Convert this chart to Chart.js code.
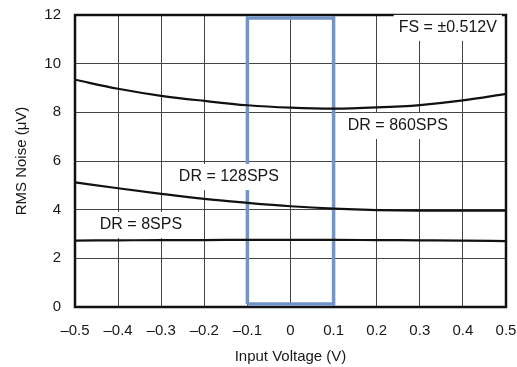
<!DOCTYPE html>
<html>
<head>
<meta charset="utf-8">
<script src="https://cdn.jsdelivr.net/npm/chart.js@4"></script>
<style>
  html, body { margin: 0; padding: 0; background: #fff; }
  #noiseChart { display: block; }
</style>
</head>
<body>
<canvas id="noiseChart" width="517" height="367"></canvas>
<script>
// Tensão de entrada (V) e ruído RMS (µV) para cada taxa de dados
const inputVoltage = [-0.5, -0.4, -0.3, -0.2, -0.1, 0, 0.1, 0.2, 0.3, 0.4, 0.5];
const noise860 = [9.34, 8.97, 8.68, 8.47, 8.29, 8.19, 8.15, 8.2, 8.3, 8.49, 8.76];
const noise128 = [5.12, 4.88, 4.65, 4.44, 4.28, 4.14, 4.04, 3.98, 3.96, 3.96, 3.96];
const noise8 = [2.73, 2.74, 2.75, 2.75, 2.76, 2.76, 2.76, 2.75, 2.74, 2.73, 2.71];

// Faixa destacada em azul
const boxX = [-0.1, -0.1, 0.1, 0.1, -0.1];
const boxY = [0.12, 11.88, 11.88, 0.12, 0.12];

const xTicks = [-0.5, -0.4, -0.3, -0.2, -0.1, 0, 0.1, 0.2, 0.3, 0.4, 0.5];
const yTicks = [0, 2, 4, 6, 8, 10, 12];

// Rótulos dentro do gráfico: texto e posição em coordenadas dos dados
const notes = [
  { text: 'FS = \u00B10.512V', x: 0.365, y: 11.47 },
  { text: 'DR = 860SPS', x: 0.249, y: 7.44 },
  { text: 'DR = 128SPS', x: -0.143, y: 5.34 },
  { text: 'DR = 8SPS', x: -0.347, y: 3.37 }
];

const FONT = '"Liberation Sans", Arial, sans-serif';
const TEXT = '#1a1718';

const toPoints = (ys) => inputVoltage.map((x, i) => ({ x: x, y: ys[i] }));

function curve(ys) {
  return {
    data: toPoints(ys),
    borderColor: '#111',
    borderWidth: 2.2,
    pointRadius: 0,
    showLine: true,
    fill: false,
    cubicInterpolationMode: 'monotone'
  };
}

// Moldura preta e rótulos com fundo branco
const decorPlugin = {
  id: 'decor',
  beforeDatasetsDraw(chart) {
    const a = chart.chartArea;
    const c = chart.ctx;
    c.save();
    c.strokeStyle = '#111';
    c.lineWidth = 2.5;
    c.strokeRect(a.left, a.top, a.right - a.left, a.bottom - a.top);
    c.restore();
  },
  afterDatasetsDraw(chart) {
    const c = chart.ctx;
    const sx = chart.scales.x;
    const sy = chart.scales.y;
    c.save();
    c.font = '16px ' + FONT;
    c.textAlign = 'center';
    c.textBaseline = 'middle';
    notes.forEach((n) => {
      const px = sx.getPixelForValue(n.x);
      const py = sy.getPixelForValue(n.y);
      const w = c.measureText(n.text).width + 10;
      c.fillStyle = '#fff';
      c.fillRect(px - w / 2, py - 13, w, 26);
      c.fillStyle = TEXT;
      c.fillText(n.text, px, py);
    });
    c.restore();
  }
};

new Chart(document.getElementById('noiseChart').getContext('2d'), {
  type: 'scatter',
  data: {
    datasets: [
      curve(noise860),
      curve(noise128),
      curve(noise8),
      {
        data: boxX.map((x, i) => ({ x: x, y: boxY[i] })),
        borderColor: '#7395c6',
        borderWidth: 3.5,
        pointRadius: 0,
        showLine: true,
        fill: false,
        tension: 0
      }
    ]
  },
  options: {
    responsive: false,
    animation: false,
    layout: { padding: { left: 0, top: 15, right: 11, bottom: 0 } },
    plugins: { legend: { display: false }, tooltip: { enabled: false } },
    scales: {
      x: {
        type: 'linear',
        min: -0.5,
        max: 0.5,
        afterFit: (s) => { s.height = 60; s.paddingLeft = 0; s.paddingRight = 0; },
        afterBuildTicks: (s) => { s.ticks = xTicks.map((v) => ({ value: v })); },
        grid: { color: '#444', lineWidth: 1, drawTicks: false },
        border: { display: false },
        ticks: {
          padding: 15,
          color: TEXT,
          font: { family: FONT, size: 15 },
          callback: (v) => (Math.abs(v) < 1e-9 ? '0' : (v < 0 ? '\u2013' : '') + Math.abs(v).toFixed(1))
        },
        title: {
          display: true,
          text: 'Input Voltage (V)',
          color: TEXT,
          font: { family: FONT, size: 15 },
          padding: { top: 0, bottom: 1 }
        }
      },
      y: {
        min: 0,
        max: 12,
        afterFit: (s) => { s.width = 75; s.paddingTop = 0; s.paddingBottom = 0; },
        afterBuildTicks: (s) => { s.ticks = yTicks.map((v) => ({ value: v })); },
        grid: { color: '#444', lineWidth: 1, drawTicks: false },
        border: { display: false },
        ticks: {
          padding: 14,
          color: TEXT,
          font: { family: FONT, size: 15 }
        },
        title: {
          display: true,
          text: 'RMS Noise (\u03BCV)',
          color: TEXT,
          font: { family: FONT, size: 15 },
          padding: { top: 13, bottom: 4 }
        }
      }
    }
  },
  plugins: [decorPlugin]
});
</script>
</body>
</html>
